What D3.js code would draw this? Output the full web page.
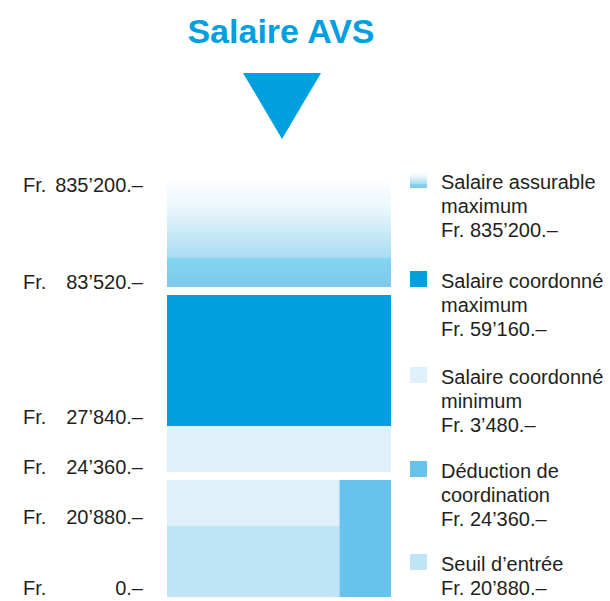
<!DOCTYPE html>
<html>
<head>
<meta charset="utf-8">
<script src="https://cdn.jsdelivr.net/npm/d3@7"></script>
<style>
  html, body { margin: 0; padding: 0; background: #fff; }
  svg { display: block; font-family: "Liberation Sans", Arial, Helvetica, sans-serif; }
</style>
</head>
<body>
<svg id="chart"></svg>
<script>
// Axis ticks (Fr.)
const tickValues = [0, 20880, 24360, 27840, 83520, 835200];

// Stacked blocks of the salary column
const segStart  = [0, 20880, 0, 24360, 27840, 83520];
const segEnd    = [20880, 24360, 24360, 27840, 83520, 835200];
const segColumn = ['left', 'left', 'right', 'full', 'full', 'full'];
const segFill   = ['#bee4f6', '#dff0fa', '#67c3ec', '#dff0fa', '#009fe0', 'url(#grad-assurable)'];

// Legend
const legendLabels = [
  ['Salaire assurable', 'maximum'],
  ['Salaire coordonné', 'maximum'],
  ['Salaire coordonné', 'minimum'],
  ['Déduction de', 'coordination'],
  ['Seuil d’entrée']
];
const legendAmounts = [835200, 59160, 3480, 24360, 20880];
const legendFills = ['url(#grad-swatch)', '#009fe0', '#dff0fa', '#67c3ec', '#bee4f6'];

const width = 610, height = 601;
const blue = '#009fe0';
const textColor = '#231f20';

const svg = d3.select('#chart')
  .attr('width', width)
  .attr('height', height)
  .attr('viewBox', `0 0 ${width} ${height}`);

const defs = svg.append('defs');
function addGradient(id) {
  const g = defs.append('linearGradient')
    .attr('id', id).attr('x1', 0).attr('y1', 0).attr('x2', 0).attr('y2', 1);
  [[0, '#ffffff'], [0.3, '#e8f5fc'], [0.72, '#aadcf2'], [0.75, '#80d6f0'], [1, '#80c8ec']]
    .forEach(([o, c]) => g.append('stop').attr('offset', o).attr('stop-color', c));
}
addGradient('grad-assurable');
addGradient('grad-swatch');

// Non linear (piecewise) value scale — the column is not to scale
const y = d3.scaleLinear()
  .domain(tickValues)
  .range([597, 526, 476, 426, 291, 178]);

// Column split: main part and coordination deduction column
const x = d3.scaleLinear().domain([0, 1]).range([167, 391]);
const split = 0.77;
const colX = { left: [0, split], right: [split, 1], full: [0, 1] };

// breaks between blocks
const gapValues = [24360, 83520];
const gap = 4;

const fmt = d3.formatLocale({ decimal: '.', thousands: '’', grouping: [3], currency: ['', ''] }).format(',d');

// Title
svg.append('text')
  .attr('x', 281)
  .attr('y', 43)
  .attr('text-anchor', 'middle')
  .attr('font-size', '34px')
  .attr('font-weight', 'bold')
  .attr('fill', blue)
  .text('Salaire AVS');

// Arrow
svg.append('path')
  .attr('d', d3.line()([[243, 73], [321, 73], [282, 139]]) + 'Z')
  .attr('fill', blue);

// Blocks
const blocks = segStart.map((s, i) => ({ s, e: segEnd[i], col: segColumn[i], fill: segFill[i] }));
svg.append('g').selectAll('rect')
  .data(blocks)
  .join('rect')
  .attr('x', d => x(colX[d.col][0]))
  .attr('width', d => x(colX[d.col][1]) - x(colX[d.col][0]))
  .attr('y', d => y(d.e) + (gapValues.includes(d.e) ? gap : 0))
  .attr('height', d => y(d.s) - y(d.e)
    - (gapValues.includes(d.e) ? gap : 0)
    - (gapValues.includes(d.s) ? gap : 0))
  .attr('fill', d => d.fill);

// Axis labels
const axis = svg.append('g').attr('font-size', '20px').attr('fill', textColor);
tickValues.forEach((v, i) => {
  const yy = i === tickValues.length - 1 ? y(v) + 14 : y(v) - 2;
  axis.append('text').attr('x', 23).attr('y', yy).text('Fr.');
  axis.append('text').attr('x', 143).attr('y', yy).attr('text-anchor', 'end').text(fmt(v) + '.–');
});

// Legend
const legendTops = [189, 288, 384, 478, 571];
const legend = svg.append('g').attr('font-size', '20px').attr('fill', textColor);
legendLabels.forEach((lines, i) => {
  const top = legendTops[i];
  legend.append('rect')
    .attr('x', 410).attr('y', top - 17)
    .attr('width', 17).attr('height', 16)
    .attr('fill', legendFills[i]);
  const t = legend.append('text').attr('x', 441).attr('y', top);
  lines.concat(['Fr. ' + fmt(legendAmounts[i]) + '.–']).forEach((l, j) => {
    t.append('tspan').attr('x', 441).attr('dy', j === 0 ? 0 : 24).text(l);
  });
});
</script>
</body>
</html>
